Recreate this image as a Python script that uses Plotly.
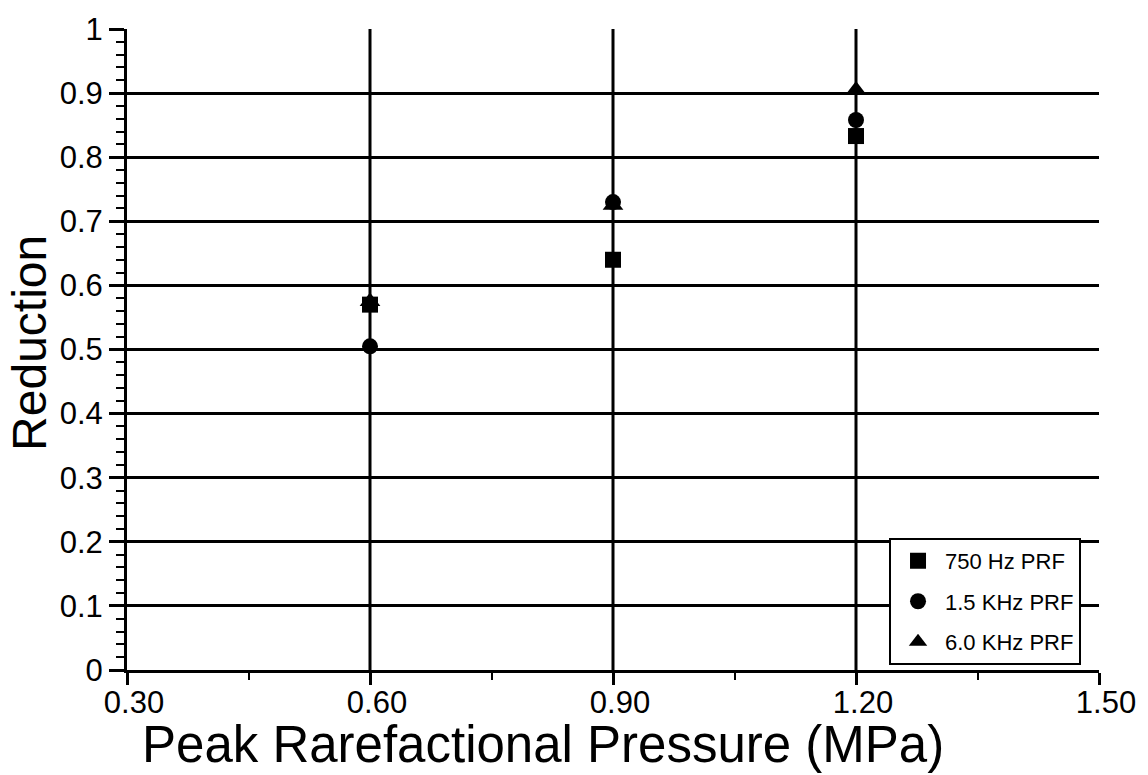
import plotly.graph_objects as go

# Peak rarefactional pressure (MPa) and measured reduction per PRF setting
pressure = [0.60, 0.90, 1.20]
reduction_750hz = [0.570, 0.640, 0.833]
reduction_1_5khz = [0.505, 0.730, 0.858]
reduction_6_0khz = [0.575, 0.725, 0.905]

series_names = ["750 Hz PRF", "1.5 KHz PRF", "6.0 KHz PRF"]
x_tick_vals = [0.30, 0.60, 0.90, 1.20, 1.50]
x_tick_text = ["0.30", "0.60", "0.90", "1.20", "1.50"]
y_tick_vals = [0, 0.1, 0.2, 0.3, 0.4, 0.5, 0.6, 0.7, 0.8, 0.9, 1]
y_tick_text = ["0", "0.1", "0.2", "0.3", "0.4", "0.5", "0.6", "0.7", "0.8", "0.9", "1"]
x_grid_vals = [0.60, 0.90, 1.20]

FONT = "Liberation Sans, Arial, Helvetica, sans-serif"

fig = go.Figure()

# draw order: squares, then triangles, then circles on top
fig.add_trace(go.Scatter(
    x=pressure, y=reduction_750hz, mode="markers", name=series_names[0],
    legendgroup="a", legendrank=1,
    marker=dict(symbol="square", size=16, color="black"),
))
fig.add_trace(go.Scatter(
    x=pressure, y=reduction_6_0khz, mode="markers", name=series_names[2],
    legendgroup="c", legendrank=3,
    marker=dict(symbol="triangle-up", size=18, color="black"),
))
fig.add_trace(go.Scatter(
    x=pressure, y=reduction_1_5khz, mode="markers", name=series_names[1],
    legendgroup="b", legendrank=2,
    marker=dict(symbol="circle", size=16, color="black"),
))

# vertical grid lines at the inner x ticks only
for xv in x_grid_vals:
    fig.add_shape(type="line", xref="x", yref="paper", x0=xv, x1=xv, y0=0, y1=1,
                  line=dict(color="black", width=3), layer="below")

fig.update_layout(
    width=1148, height=775,
    margin=dict(l=127, r=49, t=25, b=105),
    paper_bgcolor="white", plot_bgcolor="white",
    font=dict(family=FONT, color="black"),
    showlegend=True,
    legend=dict(
        x=0.9815, y=0.008, xanchor="right", yanchor="bottom",
        bgcolor="white", bordercolor="black", borderwidth=2,
        font=dict(size=22, family=FONT, color="black"),
        tracegroupgap=9, itemwidth=44,
        itemsizing="trace",
    ),
    xaxis=dict(
        range=[0.30, 1.50], tickvals=x_tick_vals, ticktext=x_tick_text,
        showgrid=False, zeroline=False,
        showline=True, linecolor="black", linewidth=3,
        ticks="outside", ticklen=12, tickwidth=3, tickcolor="black",
        ticklabelstandoff=-9, ticklabelshift=7,
        tickfont=dict(size=31, family=FONT, color="black"),
        minor=dict(dtick=0.15, tick0=0.3, ticks="outside", ticklen=7, tickwidth=2,
                   tickcolor="black", showgrid=False),
    ),
    yaxis=dict(
        range=[0, 1], tickvals=y_tick_vals, ticktext=y_tick_text,
        showgrid=True, gridcolor="black", gridwidth=3,
        zeroline=False,
        showline=True, linecolor="black", linewidth=3,
        ticks="outside", ticklen=15, tickwidth=3, tickcolor="black",
        tickfont=dict(size=31, family=FONT, color="black"),
        minor=dict(dtick=0.02, tick0=0, ticks="outside", ticklen=8, tickwidth=2,
                   tickcolor="black", showgrid=False),
    ),
    annotations=[
        dict(text="Peak Rarefactional Pressure (MPa)", xref="paper", yref="paper",
             x=0.428, y=-0.068, xanchor="center", yanchor="top", showarrow=False,
             font=dict(size=51, family=FONT, color="black")),
        dict(text="Reduction", xref="paper", yref="paper",
             x=-0.101, y=0.51, xanchor="center", yanchor="middle", showarrow=False,
             textangle=-90, font=dict(size=48, family=FONT, color="black")),
    ],
)

fig.write_html("out.html")
